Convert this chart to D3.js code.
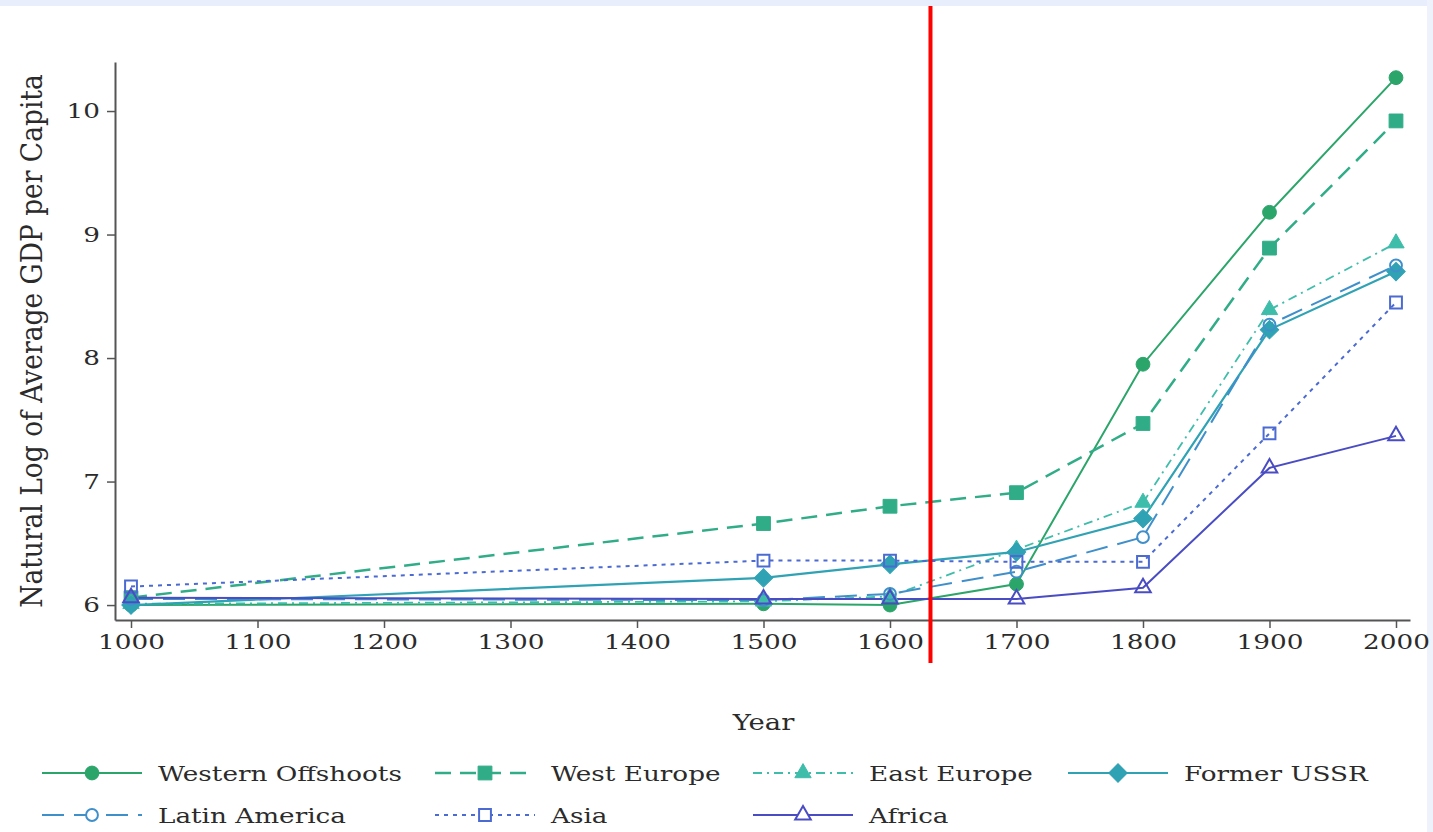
<!DOCTYPE html>
<html>
<head>
<meta charset="utf-8">
<script src="https://cdn.jsdelivr.net/npm/d3@7"></script>
<style>
  html, body { margin: 0; padding: 0; background: #fff; }
  svg { display: block; }
  text { font-family: "DejaVu Serif", serif; fill: #2b2b2b; }
</style>
</head>
<body>
<div id="chart"></div>
<script>
// 数据
const years = [1000, 1500, 1600, 1700, 1800, 1900, 2000];
const westernOffshoots = [6.00, 6.01, 6.00, 6.17, 7.95, 9.18, 10.27];
const westEurope = [6.06, 6.66, 6.80, 6.91, 7.47, 8.89, 9.92];
const eastEurope = [6.01, 6.03, 6.07, 6.45, 6.83, 8.39, 8.93];
const formerUSSR = [6.00, 6.22, 6.33, 6.43, 6.70, 8.23, 8.70];
const latinAmerica = [6.05, 6.04, 6.09, 6.27, 6.55, 8.27, 8.75];
const asia = [6.15, 6.36, 6.36, 6.35, 6.35, 7.39, 8.45];
const africa = [6.06, 6.05, 6.05, 6.05, 6.14, 7.11, 7.37];
const seriesNames = ['Western Offshoots', 'West Europe', 'East Europe', 'Former USSR', 'Latin America', 'Asia', 'Africa'];
const xTicks = [1000, 1100, 1200, 1300, 1400, 1500, 1600, 1700, 1800, 1900, 2000];
const yTicks = [6, 7, 8, 9, 10];
const markYear = 1632;

const seriesValues = [westernOffshoots, westEurope, eastEurope, formerUSSR, latinAmerica, asia, africa];

// 样式 (rot: 旋转角度，方块旋转45度当作菱形)
const styles = [
  { color: '#2ba56a', dash: null, width: 2, symbol: d3.symbolCircle, size: 150, fill: true, rot: 0 },
  { color: '#30ad87', dash: '16,9', width: 2.5, symbol: d3.symbolSquare, size: 190, fill: true, rot: 0 },
  { color: '#3ebdab', dash: '9,5,2,5', width: 1.8, symbol: d3.symbolTriangle, size: 115, fill: true, rot: 0 },
  { color: '#2fa2b4', dash: null, width: 2.2, symbol: d3.symbolSquare, size: 170, fill: true, rot: 45 },
  { color: '#3f8fcb', dash: '22,10', width: 2, symbol: d3.symbolCircle, size: 110, fill: false, rot: 0 },
  { color: '#4b6ad2', dash: '4,5', width: 2, symbol: d3.symbolSquare, size: 140, fill: false, rot: 0 },
  { color: '#4a4cc3', dash: null, width: 2, symbol: d3.symbolTriangle, size: 105, fill: false, rot: 0 }
];

const width = 1433, height = 832;
const margin = { top: 62, left: 115 };
const plotW = 1295, plotH = 558;
const sx = 1.25; // 字体横向拉伸

const svg = d3.select('#chart').append('svg').attr('width', width).attr('height', height);

// 背景边框
svg.append('rect').attr('x', 0).attr('y', 0).attr('width', width).attr('height', 6).attr('fill', '#e8eefb');
svg.append('rect').attr('x', 1427).attr('y', 0).attr('width', 6).attr('height', height).attr('fill', '#eef2fb');

const x = d3.scaleLinear().domain([987.35, 2011.07]).range([0, plotW]);
const y = d3.scaleLinear().domain([5.879, 10.397]).range([plotH, 0]);

const g = svg.append('g').attr('transform', 'translate(' + margin.left + ',' + margin.top + ')');

// 坐标轴
const xAxis = g.append('g').attr('transform', 'translate(0,' + plotH + ')')
  .call(d3.axisBottom(x).tickValues(xTicks).tickFormat(d3.format('d')).tickSize(8).tickSizeOuter(0).tickPadding(6));
const yAxis = g.append('g')
  .call(d3.axisLeft(y).tickValues(yTicks).tickFormat(d3.format('d')).tickSize(8).tickSizeOuter(0).tickPadding(4));

[xAxis, yAxis].forEach(a => {
  a.select('.domain').attr('stroke', '#555').attr('stroke-width', 2);
  a.selectAll('.tick line').attr('stroke', '#555').attr('stroke-width', 1.5);
  a.selectAll('.tick text').style('font-size', '21px').attr('fill', '#2b2b2b')
    .attr('transform', 'scale(' + sx + ',1)');
});

function stretchText(parent, tx, ty, str, anchor, rotate, size) {
  parent.append('text')
    .attr('transform', 'translate(' + tx + ',' + ty + ')' + (rotate ? ' rotate(-90) scale(1,1.1)' : ' scale(' + sx + ',1)'))
    .attr('text-anchor', anchor)
    .style('font-size', (size || 21) + 'px')
    .text(str);
}

// 轴标题
stretchText(svg, margin.left + x(1500), 730, 'Year', 'middle', false, 22);
stretchText(svg, 42, 341, 'Natural Log of Average GDP per Capita', 'middle', true, 26.5);

// 折线
const line = d3.line().x((d, i) => x(years[i])).y(d => y(d));

seriesValues.forEach((vals, k) => {
  const st = styles[k];
  g.append('path')
    .datum(vals)
    .attr('fill', 'none')
    .attr('stroke', st.color)
    .attr('stroke-width', st.width)
    .attr('stroke-dasharray', st.dash)
    .attr('d', line);
});

seriesValues.forEach((vals, k) => {
  const st = styles[k];
  const sym = d3.symbol().type(st.symbol).size(st.size);
  g.selectAll('.mk' + k).data(vals).enter().append('path')
    .attr('class', 'mk' + k)
    .attr('transform', (d, i) => 'translate(' + x(years[i]) + ',' + y(d) + ') rotate(' + st.rot + ')')
    .attr('d', sym)
    .attr('fill', st.fill ? st.color : 'none')
    .attr('stroke', st.color)
    .attr('stroke-width', st.fill ? 1 : 2);
});

// 标注线
svg.append('line')
  .attr('x1', margin.left + x(markYear)).attr('x2', margin.left + x(markYear))
  .attr('y1', 6).attr('y2', 663)
  .attr('stroke', '#f00').attr('stroke-width', 4);

// 图例
const legendCols = [42, 435, 753, 1068];
const legendRows = [773, 815];
seriesNames.forEach((name, k) => {
  const st = styles[k];
  const col = k < 4 ? k : k - 4;
  const row = k < 4 ? 0 : 1;
  const lx = legendCols[col], ly = legendRows[row];
  const lg = svg.append('g').attr('transform', 'translate(' + lx + ',' + ly + ')');
  lg.append('line').attr('x1', 0).attr('x2', 100).attr('y1', 0).attr('y2', 0)
    .attr('stroke', st.color).attr('stroke-width', st.width)
    .attr('stroke-dasharray', st.dash);
  lg.append('path').attr('transform', 'translate(50,0) rotate(' + st.rot + ')')
    .attr('d', d3.symbol().type(st.symbol).size(st.size)())
    .attr('fill', st.fill ? st.color : '#fff')
    .attr('stroke', st.color).attr('stroke-width', st.fill ? 1 : 2);
  stretchText(lg, 116, 8, name, 'start', false, 21);
});
</script>
</body>
</html>
